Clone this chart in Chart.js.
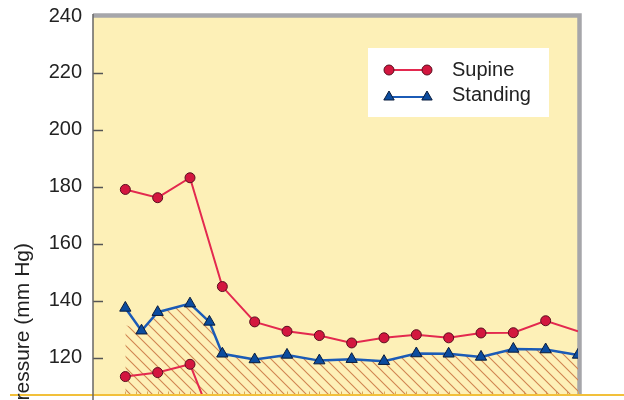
<!DOCTYPE html>
<html>
<head>
<meta charset="utf-8">
<script src="https://cdn.jsdelivr.net/npm/chart.js@4.4.0/dist/chart.umd.min.js"></script>
<style>
  html, body { margin: 0; padding: 0; background: #fff; overflow: hidden; }
  #wrap { width: 624px; height: 402px; position: relative; }
</style>
</head>
<body>
<div id="wrap"><canvas id="bp-chart"></canvas></div>
<script>
// Values (x in time steps, y in mm Hg)
const supineX = [0, 1, 2, 3, 4, 5, 6, 7, 8, 9, 10, 11, 12, 13, 14];
const supine = [179.1, 176.2, 183.2, 145, 132.6, 129.3, 127.8, 125.2, 127, 128.1, 127, 128.7, 128.8, 133, 129.3];

const supineLowX = [0, 1, 2, 3];
const supineLow = [113.4, 114.8, 117.7, 89];

const standingX = [0, 0.5, 1, 2, 2.6, 3, 4, 5, 6, 7, 8, 9, 10, 11, 12, 13, 14];
const standing = [137.5, 129.5, 136, 139, 132.6, 121.4, 119.4, 121, 119, 119.5, 118.8, 121.5, 121.4, 120.3, 123.1, 122.9, 121];

// top edge of the hatched region
const hatchX = [0, 0.5, 1, 2, 2.6, 3, 4, 5, 6, 7, 8, 9, 10, 11, 12, 13, 14];
const hatchTop = [131.5, 129.5, 136, 139, 132.6, 121.4, 119.4, 121, 119, 119.5, 118.8, 121.5, 121.4, 120.3, 123.1, 122.9, 121];

const yTicks = [120, 140, 160, 180, 200, 220, 240];
const seriesNames = ['Supine', 'Standing'];
const yTitle = 'Blood pressure (mm Hg)';

const FONT = "'Liberation Sans', Arial, sans-serif";
const RED = '#e3294f', RED_FILL = '#d3163f', RED_EDGE = '#5a0f1f';
const BLUE = '#1b5bb6', BLUE_FILL = '#0b4c9f', BLUE_EDGE = '#0a1c3c';

function pts(xs, ys) {
    return xs.map((x, i) => ({ x: x, y: ys[i] }));
}

// Diagonal hatch pattern
function makeHatch() {
    const s = 11;
    const pc = document.createElement('canvas');
    pc.width = s; pc.height = s;
    const g = pc.getContext('2d');
    g.strokeStyle = '#d08450';
    g.lineWidth = 1.1;
    g.beginPath();
    g.moveTo(-s, 0); g.lineTo(s, 2 * s);
    g.moveTo(0, 0); g.lineTo(s, s);
    g.moveTo(0, -s); g.lineTo(2 * s, s);
    g.stroke();
    return g.createPattern(pc, 'repeat');
}

// Plot frame, axis ticks, y title and legend
const framePlugin = {
    id: 'frame',
    beforeDraw(chart) {
        const { ctx, chartArea: a } = chart;
        ctx.save();
        ctx.fillStyle = '#fdf0b7';
        ctx.fillRect(a.left, a.top, a.right - a.left, a.bottom - a.top);
        ctx.restore();
    },
    beforeDatasetsDraw(chart) {
        const { ctx, chartArea: a } = chart;
        const xs = chart.scales.x, ys = chart.scales.y;
        ctx.save();
        // grey frame top and right
        ctx.strokeStyle = '#a6a6aa';
        ctx.lineWidth = 4.5;
        ctx.beginPath();
        ctx.moveTo(a.left, a.top - 0.5);
        ctx.lineTo(a.right + 1.5, a.top - 0.5);
        ctx.lineTo(a.right + 1.5, a.bottom);
        ctx.stroke();
        // inward y ticks
        ctx.strokeStyle = '#555';
        ctx.lineWidth = 1.5;
        yTicks.forEach(v => {
            if (v >= 240) return;
            const y = Math.round(ys.getPixelForValue(v)) + 0.5;
            ctx.beginPath();
            ctx.moveTo(a.left, y);
            ctx.lineTo(a.left + 10, y);
            ctx.stroke();
        });
        // small x ticks along the bottom
        ctx.strokeStyle = '#d9a85a';
        ctx.lineWidth = 1;
        for (let i = 0; i <= 42; i++) {
            const x = Math.round(xs.getPixelForValue(i / 3)) + 0.5;
            ctx.beginPath();
            ctx.moveTo(x, a.bottom - 3);
            ctx.lineTo(x, a.bottom);
            ctx.stroke();
        }
        ctx.restore();
    },
    afterDraw(chart) {
        const { ctx, chartArea: a } = chart;
        ctx.save();
        // bottom rule and y axis line
        ctx.strokeStyle = '#f2c03a';
        ctx.lineWidth = 2;
        ctx.beginPath();
        ctx.moveTo(10, a.bottom + 0.5);
        ctx.lineTo(624, a.bottom + 0.5);
        ctx.stroke();
        ctx.strokeStyle = '#666';
        ctx.lineWidth = 1.5;
        ctx.beginPath();
        ctx.moveTo(a.left, a.top - 2);
        ctx.lineTo(a.left, 402);
        ctx.stroke();

        // y axis title, cut by the bottom of the picture
        ctx.translate(29, 243);
        ctx.rotate(-Math.PI / 2);
        ctx.font = '21px ' + FONT;
        ctx.fillStyle = '#222';
        ctx.textAlign = 'right';
        ctx.textBaseline = 'alphabetic';
        ctx.fillText(yTitle, 0, 0);
        ctx.setTransform(1, 0, 0, 1, 0, 0);

        // legend box
        ctx.fillStyle = '#fff';
        ctx.fillRect(368, 48, 181, 69);
        const rows = [
            { y: 70, color: RED, fill: RED_FILL, edge: RED_EDGE, style: 'circle', r: 5 },
            { y: 97, color: BLUE, fill: BLUE_FILL, edge: BLUE_EDGE, style: 'triangle', r: 6 }
        ];
        rows.forEach((row, i) => {
            ctx.strokeStyle = row.color;
            ctx.lineWidth = 2;
            ctx.beginPath();
            ctx.moveTo(389, row.y);
            ctx.lineTo(427, row.y);
            ctx.stroke();
            [389, 427].forEach(px => {
                ctx.fillStyle = row.fill;
                ctx.strokeStyle = row.edge;
                ctx.lineWidth = 1;
                Chart.helpers.drawPoint(ctx, { pointStyle: row.style, radius: row.r, rotation: 0, borderWidth: 1 }, px, row.y);
            });
            ctx.fillStyle = '#222';
            ctx.font = '20px ' + FONT;
            ctx.textAlign = 'left';
            ctx.textBaseline = 'middle';
            ctx.fillText(seriesNames[i], 452, i === 0 ? 70 : 95);
        });
        ctx.restore();
    }
};

const ctx = document.getElementById('bp-chart').getContext('2d');
const lastIdx = supine.length - 1;

new Chart(ctx, {
    type: 'line',
    data: {
        datasets: [
            {
                label: seriesNames[0],
                data: pts(supineX, supine),
                borderColor: RED,
                borderWidth: 2,
                pointBackgroundColor: RED_FILL,
                pointBorderColor: RED_EDGE,
                pointBorderWidth: 1,
                pointRadius: c => (c.dataIndex === lastIdx ? 0 : 5),
                tension: 0,
                fill: false
            },
            {
                label: seriesNames[0] + ' (low)',
                data: pts(supineLowX, supineLow),
                borderColor: RED,
                borderWidth: 2,
                pointBackgroundColor: RED_FILL,
                pointBorderColor: RED_EDGE,
                pointBorderWidth: 1,
                pointRadius: 5,
                tension: 0,
                fill: false
            },
            {
                label: seriesNames[1],
                data: pts(standingX, standing),
                borderColor: BLUE,
                borderWidth: 2.5,
                pointStyle: 'triangle',
                pointBackgroundColor: BLUE_FILL,
                pointBorderColor: BLUE_EDGE,
                pointBorderWidth: 1,
                pointRadius: 6.5,
                tension: 0,
                fill: false
            },
            {
                label: 'hatch',
                data: pts(hatchX, hatchTop),
                borderWidth: 0,
                borderColor: 'rgba(0,0,0,0)',
                backgroundColor: makeHatch(),
                pointRadius: 0,
                tension: 0,
                fill: 'start'
            }
        ]
    },
    options: {
        responsive: true,
        maintainAspectRatio: false,
        animation: false,
        layout: { padding: { top: 16, right: 46, bottom: 3, left: 0 } },
        plugins: {
            legend: { display: false },
            tooltip: { enabled: false }
        },
        scales: {
            x: {
                type: 'linear',
                min: -1,
                max: 14,
                display: false
            },
            y: {
                min: 107.1,
                max: 240,
                afterBuildTicks: scale => {
                    scale.ticks = yTicks.map(v => ({ value: v }));
                },
                afterFit: scale => {
                    scale.width = 93;
                    scale.paddingTop = 0;
                    scale.paddingBottom = 0;
                },
                grid: { display: false, drawTicks: false },
                border: { display: false },
                ticks: {
                    padding: 11,
                    color: '#222',
                    font: { family: FONT, size: 20 }
                }
            }
        }
    },
    plugins: [framePlugin]
});
</script>
</body>
</html>
